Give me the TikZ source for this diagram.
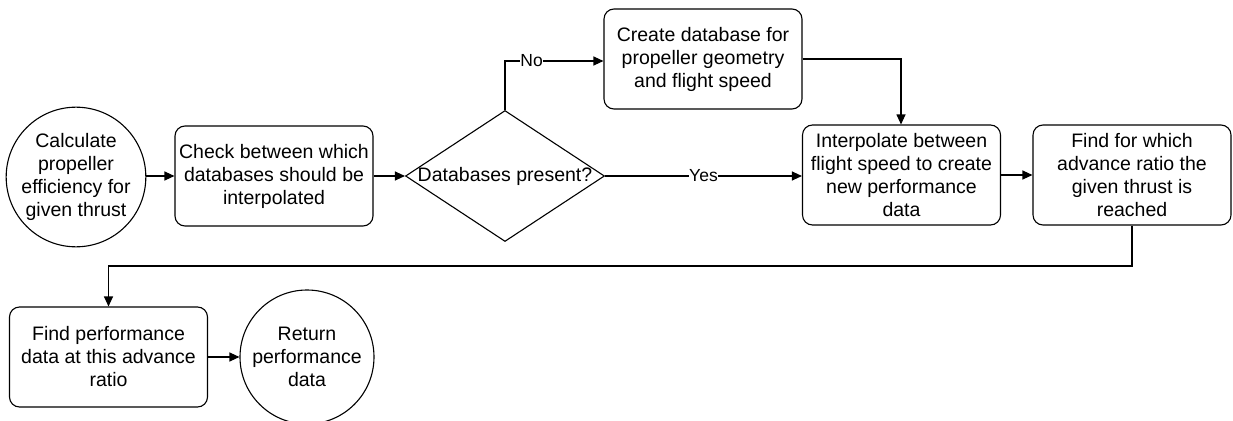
\documentclass[tikz,border=0pt]{standalone}
\usepackage{fontspec}
\setmainfont{Liberation Sans}
\usetikzlibrary{shapes.geometric,arrows.meta}
\begin{document}
\begin{tikzpicture}[x=1pt,y=-1pt,
  every node/.style={font=\fontsize{19.5}{23}\selectfont, align=center, inner sep=0pt},
  procbox/.style={draw, line width=1.1pt, rounded corners=10pt, minimum width=198pt, minimum height=100pt},
  termcirc/.style={draw, line width=1.1pt, circle, minimum size=134pt},
  decision/.style={draw, line width=1.1pt, diamond, minimum width=199pt, minimum height=131pt, aspect=1.52},
  flow/.style={line width=1.1pt, -{Triangle[length=10pt,width=9pt]}},
  edgelabel/.style={fill=white, font=\fontsize{17.5}{20}\selectfont, inner sep=0.5pt}]
\useasboundingbox (0,0) rectangle (1233,420);

\node[termcirc] (start) at (76,177) {Calculate\\propeller\\efficiency for\\given thrust};
\node[procbox] (check) at (274,176) {Check between which\\databases should be\\interpolated};
\node[decision] (present) at (505,176) {};
\node at (505,176) {Databases present?};
\node[procbox] (create) at (703,59) {Create database for\\propeller geometry\\and flight speed};
\node[procbox] (interp) at (901.5,175) {Interpolate between\\flight speed to create\\new performance\\data};
\node[procbox] (advance) at (1132,175) {Find for which\\advance ratio the\\given thrust is\\reached};
\node[procbox] (perf) at (108.5,357) {Find performance\\data at this advance\\ratio};
\node[termcirc] (return) at (307,357) {Return\\performance\\data};

\coordinate (nobend) at (505,61);
\coordinate (dbbend) at (901,59);
\coordinate (lowright) at (1132,266);
\coordinate (lowleft) at (108.5,266);

\draw[flow] (start.east |- check.west) -- (check.west);
\draw[flow] (check.east) -- (present.west);
\draw[flow] (present.north) -- (nobend) -- (create.west |- nobend)
  node[edgelabel, pos=0.27] {No};
\draw[flow] (present.east) -- (interp.west |- present.east)
  node[edgelabel, midway] {Yes};
\draw[flow] (create.east) -- (dbbend) -- (interp.north -| dbbend);
\draw[flow] (interp.east) -- (advance.west);
\draw[flow] (advance.south) -- (lowright) -- (lowleft) -- (perf.north);
\draw[flow] (perf.east) -- (return.west);
\end{tikzpicture}
\end{document}
